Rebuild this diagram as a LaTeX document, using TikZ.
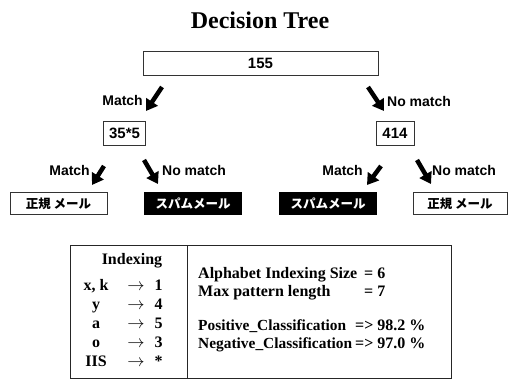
\documentclass[tikz,border=0pt]{standalone}
\usepackage{fontspec}
\setmainfont{Liberation Serif}
\setsansfont{Liberation Sans}
\newfontfamily\jpfont{Noto Sans CJK JP}
\usetikzlibrary{arrows.meta, positioning}

\begin{document}
\begin{tikzpicture}[x=1pt, y=-1pt,
    numbox/.style={draw=black!80, line width=0.8pt, minimum height=24pt, inner sep=0pt,
        font=\sffamily\bfseries\fontsize{15}{15}\selectfont},
    lbl/.style={inner sep=0pt, font=\sffamily\bfseries\fontsize{14}{14}\selectfont},
    mailbox/.style={draw=black!80, line width=0.8pt, minimum width=97pt, minimum height=22pt,
        inner sep=0pt, font=\jpfont\bfseries\fontsize{12.5}{12.5}\selectfont},
    spambox/.style={mailbox, fill=black, text=white, draw=black},
    bigarrow/.style={line width=4.5pt, -{Triangle[length=11pt,width=13.5pt]}},
    tabfont/.style={inner sep=0pt, font=\bfseries\fontsize{16}{16}\selectfont},
    tabtext/.style={tabfont, anchor=base west},
    classtext/.style={tabtext, font=\bfseries\fontsize{15.4}{16}\selectfont}]

    \useasboundingbox (0,0) rectangle (508,379);

    % title
    \node[inner sep=0pt, anchor=base, font=\bfseries\fontsize{24}{24}\selectfont] (title) at (260,29) {Decision Tree};

    % first split
    \node[numbox, minimum width=235pt] (root) at (260.5,63.5) {155};
    \node[numbox, minimum width=42pt] (left) at (124.5,133) {35*5};
    \node[numbox, minimum width=38pt] (right) at (395,133) {414};

    \coordinate (la1) at (162,87);  \coordinate (lb1) at (146,111);
    \coordinate (ra1) at (368,87);  \coordinate (rb1) at (384,111);
    \draw[bigarrow] (la1) -- (lb1);
    \draw[bigarrow] (ra1) -- (rb1);
    \node[lbl, anchor=base east] (m1) at (143,106) {Match};
    \node[lbl, anchor=base west] (n1) at (387,107) {No match};

    % second split
    \coordinate (la2) at (104,166); \coordinate (lb2) at (92,185);
    \coordinate (lc2) at (144,160); \coordinate (ld2) at (158,184);
    \coordinate (ra2) at (381,166); \coordinate (rb2) at (367,185);
    \coordinate (rc2) at (417,160); \coordinate (rd2) at (431,184);
    \draw[bigarrow] (la2) -- (lb2);
    \draw[bigarrow] (lc2) -- (ld2);
    \draw[bigarrow] (ra2) -- (rb2);
    \draw[bigarrow] (rc2) -- (rd2);
    \node[lbl, anchor=base east] (m2) at (90,176) {Match};
    \node[lbl, anchor=base west] (n2) at (162,176) {No match};
    \node[lbl, anchor=base east] (m3) at (363,176) {Match};
    \node[lbl, anchor=base west] (n3) at (432,176) {No match};

    % leaves
    \node[mailbox] (ham1) at (58.5,203.5) {正規 メール};
    \node[spambox] (spam1) at (193,203.5) {スパムメール};
    \node[spambox] (spam2) at (328,203.5) {スパムメール};
    \node[mailbox, minimum width=94pt] (ham2) at (460,203.5) {正規 メール};

    % summary table
    \draw[line width=0.9pt, black!85] (70,245) rectangle (451,378);
    \draw[line width=0.9pt, black!85] (187,245) -- (187,378);

    \node[tabfont, anchor=base] (idx) at (132,264) {Indexing};
    \foreach \sym/\num [count=\i from 0] in {{x, k}/1, y/4, a/5, o/3, IIS/*} {
        \node[tabfont, anchor=base] (s\i) at (96,290+19*\i) {\sym};
        \node[tabfont, anchor=base] (r\i) at (136,290+19*\i) {$\rightarrow$};
        \node[tabfont, anchor=base] (v\i) at (158.5,290+19*\i) {\num};
    }

    \node[tabtext] (size) at (198,278) {Alphabet Indexing Size};
    \node[tabtext] (sizev) at (364,278) {= 6};
    \node[tabtext] (len) at (198,296) {Max pattern length};
    \node[tabtext] (lenv) at (364,296) {= 7};
    \node[classtext] (pos) at (198,330) {Positive\_Classification};
    \node[tabtext] (posv) at (355,330) {=> 98.2 \%};
    \node[classtext] (neg) at (198,348) {Negative\_Classification};
    \node[tabtext] (negv) at (355,348) {=> 97.0 \%};

\end{tikzpicture}
\end{document}
